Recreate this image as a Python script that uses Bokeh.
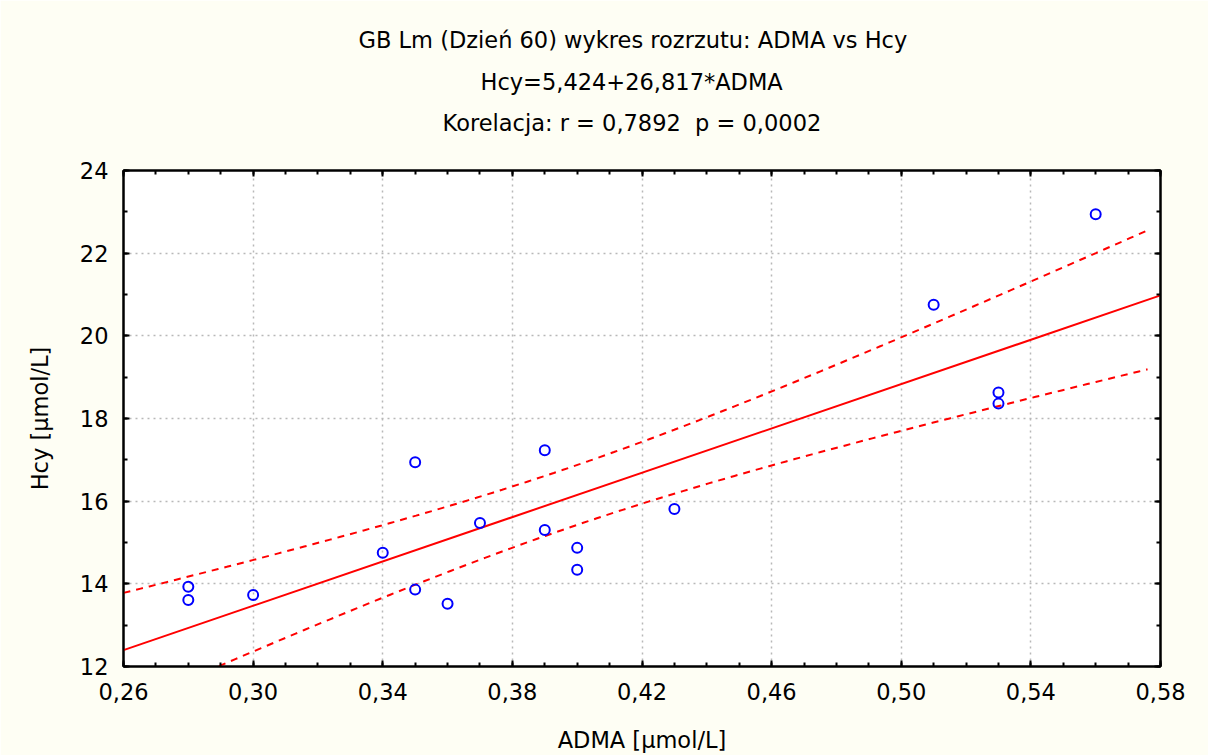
import numpy as np
from bokeh.plotting import figure
from bokeh.models import (Range1d, FixedTicker, CustomJSTickFormatter, LinearAxis, Title)
from bokeh.embed import file_html
from bokeh.resources import INLINE

# ---- data ----
adma = [0.28, 0.28, 0.30, 0.34, 0.35, 0.35, 0.36, 0.37, 0.39, 0.39, 0.40, 0.40, 0.43, 0.51, 0.53, 0.53, 0.56]
hcy = [13.93, 13.61, 13.73, 14.75, 16.94, 13.86, 13.52, 15.47, 17.23, 15.30, 14.87, 14.34, 15.81, 20.75, 18.63, 18.36, 22.94]
intercept = 5.424
slope = 26.817
x_ticks = [0.26, 0.30, 0.34, 0.38, 0.42, 0.46, 0.50, 0.54, 0.58]
y_ticks = [12, 14, 16, 18, 20, 22, 24]
x_minor = [round(0.26 + 0.01 * i, 2) for i in range(33)]
y_minor = list(range(12, 25))
title_lines = ["GB Lm (Dzień 60) wykres rozrzutu: ADMA vs Hcy",
               "Hcy=5,424+26,817*ADMA",
               "Korelacja: r = 0,7892\u00a0\u00a0p = 0,0002"]
x_label = "ADMA [µmol/L]"
y_label = "Hcy [µmol/L]"
t_crit = 2.1314  # t(0.975, df=15)

# ---- regression line and 95% confidence band for the mean ----
xa = np.array(adma)
ya = np.array(hcy)
n = len(xa)
line_x = np.array([0.26, 0.58])
line_y = intercept + slope * line_x
resid = ya - (intercept + slope * xa)
s = np.sqrt(np.sum(resid ** 2) / (n - 2))
sxx = np.sum((xa - xa.mean()) ** 2)
band_x = np.linspace(0.26, 0.576, 120)
band_fit = intercept + slope * band_x
half = t_crit * s * np.sqrt(1.0 / n + (band_x - xa.mean()) ** 2 / sxx)
upper = band_fit + half
lower = band_fit - half

FONT = "DejaVu Sans"
FS = "22.5px"
CREAM = "#fefef4"

p = figure(width=1208, height=755, output_backend="svg", toolbar_location=None,
           x_range=Range1d(0.26, 0.58), y_range=Range1d(12, 24),
           min_border_left=123, min_border_right=48, min_border_top=170, min_border_bottom=87,
           border_fill_color=CREAM, background_fill_color="white",
           outline_line_color="black", outline_line_width=2)

xax = p.below[0]
yax = p.left[0]

fmt_x = CustomJSTickFormatter(code="return tick.toFixed(2).replace('.', ',');")
fmt_y = CustomJSTickFormatter(code="return tick.toFixed(0);")
blank = CustomJSTickFormatter(code="return '';")
spacer = CustomJSTickFormatter(code="return ' ';")

def style_axis(ax):
    ax.axis_line_color = "black"
    ax.axis_line_width = 2
    ax.major_tick_in = 6
    ax.major_tick_out = 0
    ax.minor_tick_in = 4
    ax.minor_tick_out = 0
    ax.major_tick_line_color = "black"
    ax.minor_tick_line_color = "black"
    ax.major_tick_line_width = 2
    ax.minor_tick_line_width = 2
    ax.major_label_text_font = FONT
    ax.major_label_text_font_size = FS
    ax.major_label_text_color = "black"
    ax.axis_label_text_font = FONT
    ax.axis_label_text_font_size = FS
    ax.axis_label_text_font_style = "normal"
    ax.axis_label_text_color = "black"

# top & right mirror axes (added first so they sit next to the frame)
top = LinearAxis(ticker=FixedTicker(ticks=x_ticks, minor_ticks=x_minor), formatter=spacer)
style_axis(top)
top.major_label_text_font_size = "1px"
top.major_label_standoff = 26
p.add_layout(top, "above")
right = LinearAxis(ticker=FixedTicker(ticks=y_ticks, minor_ticks=y_minor), formatter=blank)
style_axis(right)
right.major_label_text_font_size = "0px"
right.major_label_standoff = 0
p.add_layout(right, "right")

# titles (first added is nearest the plot); left-aligned with offsets from frame left
for txt, so, off in [(title_lines[2], 9.8, 319), (title_lines[1], 15.8, 357), (title_lines[0], 12, 235)]:
    p.add_layout(Title(text=txt, align="left", offset=off, text_font=FONT, text_font_size=FS,
                       text_font_style="normal", text_color="black", standoff=so), "above")

xax.ticker = FixedTicker(ticks=x_ticks, minor_ticks=x_minor)
xax.formatter = fmt_x
xax.axis_label = x_label
style_axis(xax)
xax.major_label_standoff = 16
xax.axis_label_standoff = 24

yax.ticker = FixedTicker(ticks=y_ticks, minor_ticks=y_minor)
yax.formatter = fmt_y
yax.axis_label = y_label
style_axis(yax)
yax.major_label_standoff = 15
yax.axis_label_standoff = 24

p.xgrid.ticker = FixedTicker(ticks=x_ticks)
p.ygrid.ticker = FixedTicker(ticks=y_ticks)
for g in (p.xgrid[0], p.ygrid[0]):
    g.grid_line_color = "#b8b8b8"
    g.grid_line_width = 1.5
    g.grid_line_dash = "2 4"

p.line(band_x, upper, line_color="#ff0000", line_width=2, line_dash="7 6")
p.line(band_x, lower, line_color="#ff0000", line_width=2, line_dash="7 6")
p.line(line_x, line_y, line_color="#ff0000", line_width=2)
p.scatter(adma, hcy, marker="circle", size=10, fill_color=None,
          line_color="#0000ff", line_width=2)

open("out.html", "w").write(file_html(p, INLINE))
